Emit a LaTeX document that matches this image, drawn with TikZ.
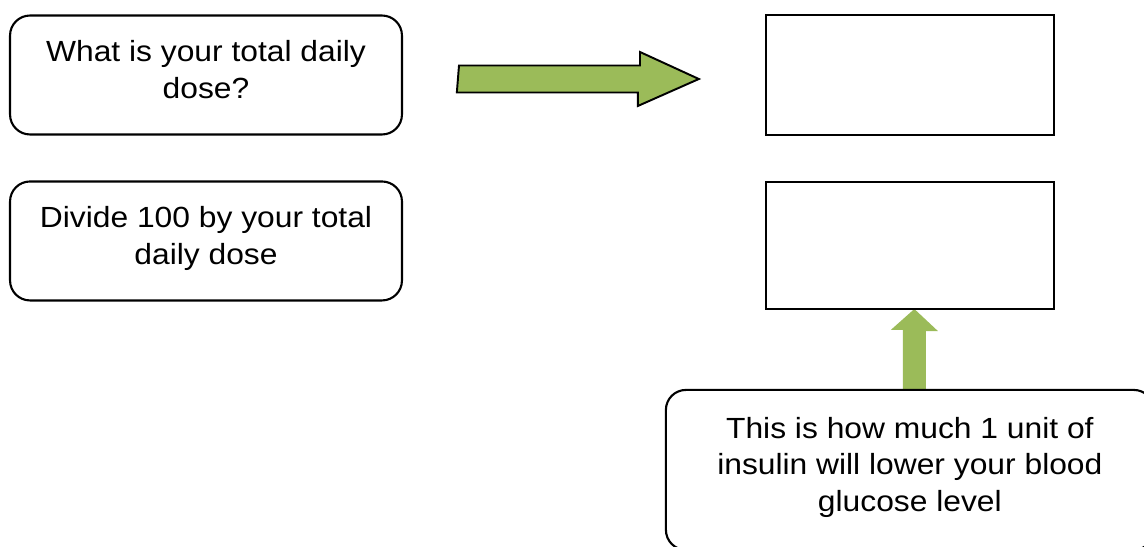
\documentclass[tikz,border=0pt]{standalone}
\usepackage{fontspec}
\setmainfont{Liberation Sans}[FakeStretch=1.09]
\usetikzlibrary{positioning,backgrounds}
\definecolor{arrowgreen}{RGB}{155,187,89}

\begin{document}
\begin{tikzpicture}%
		[x=0.02cm, y=-0.02cm,
		node distance=3cm,
		on grid,
		line width=1.2pt,
		font=\fontsize{16.6pt}{20.9pt}\selectfont
		]
		\tikzstyle{q}=[draw, rounded corners=0.4cm, minimum width=7.84cm, minimum height=2.38cm, align=center, inner sep=0pt, execute at begin node=\strut, execute at end node=\strut]
		\tikzstyle{blank}=[draw, minimum width=5.76cm, minimum height=2.4cm]
		\tikzstyle{big arrow}=[fill=arrowgreen, draw=black, line width=1.1pt, line join=miter]
		\clip (0,0) rectangle (1144,547);
		\node[q] (Dose) at (206,75)             {What is your total daily\\dose?};
		\node[q] (Divide) [below=3.32cm of Dose] {Divide 100 by your total\\daily dose};
		\node[blank] (DoseBox) [right=14.08cm of Dose] {};
		\node[blank, minimum height=2.54cm] (RatioBox) [below=3.41cm of DoseBox] {};
		\node[q, minimum width=9.76cm, minimum height=3.2cm] (Lower) [below=4.49cm of RatioBox]
			{This is how much 1 unit of\\insulin will lower your blood\\glucose level};
		
		%   CORNER / TIP OF THE BLOCK ARROWS
		\coordinate (RightTail) at ([xshift=1.12cm, yshift=0.19cm]Dose.east);
		\coordinate (RightTip)  at ([xshift=-1.32cm, yshift=-0.08cm]DoseBox.west);
		\coordinate (UpTail)    at ([xshift=-0.14cm]Lower.north);
		\coordinate (UpTip)     at ([xshift=0.09cm, yshift=0.02cm]RatioBox.south);
		
		\begin{scope}[on background layer]
		\filldraw[big arrow] (RightTail) -- ++(181,0) -- ++(0,-13.5) -- (RightTip)
			-- ++(-61,27) -- ++(0,-13.5) -- ++(-181,0) -- cycle;
		\fill[arrowgreen] (UpTail) -- ++(0,-59) -- ++(-12,0) -- (UpTip)
			-- ++(23.5,22) -- ++(-12,0) -- ++(0,59) -- cycle;
		\end{scope}
		\end{tikzpicture}
\end{document}
